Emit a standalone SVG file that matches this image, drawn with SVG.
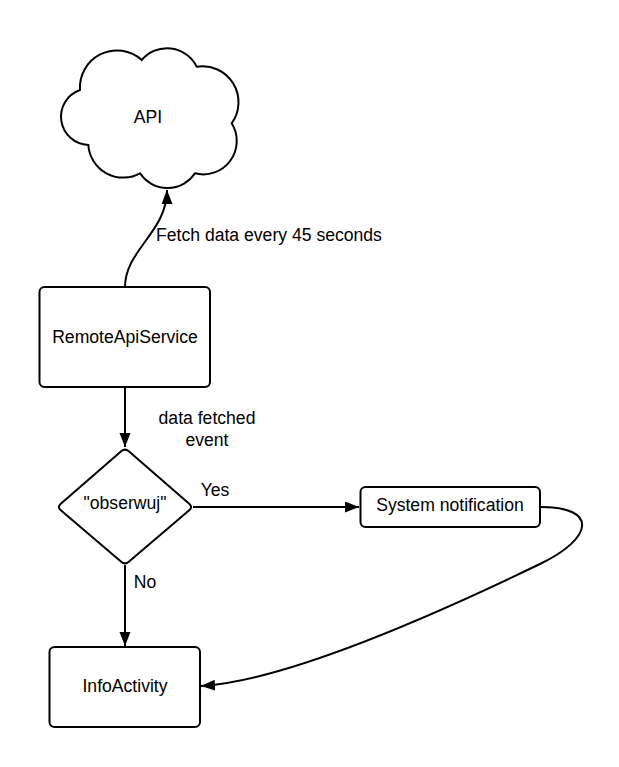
<svg xmlns="http://www.w3.org/2000/svg" width="619" height="767" viewBox="0 0 619 767">
<style>
.s{fill:#fff;stroke:#000;stroke-width:2}
.c{fill:none;stroke:#000;stroke-width:2}
text{font-family:"Liberation Sans",Arial,sans-serif;font-size:17.6px;fill:#000}
.m{text-anchor:middle}
</style>
<defs>
<marker id="ah" markerUnits="userSpaceOnUse" markerWidth="16" markerHeight="13" refX="14" refY="5.5" orient="auto">
<path d="M0,0 L14,5.5 L0,11 Z" fill="#000"/>
</marker>
</defs>
<rect width="619" height="767" fill="#fff"/>
<g id="connectors">
<path class="c" d="M125,287 C125,250 167,232 167,190" marker-end="url(#ah)"/>
<path class="c" d="M125,387 L125,447" marker-end="url(#ah)"/>
<path class="c" d="M193,507 L359,507" marker-end="url(#ah)"/>
<path class="c" d="M125,565 L125,646" marker-end="url(#ah)"/>
<path class="c" d="M541,507 C598,507 594,538 540,564 C482,592 300,680 201,686" marker-end="url(#ah)"/>
<text x="156" y="241">Fetch data every 45 seconds</text>
<text class="m" x="207" y="424">data fetched</text>
<text class="m" x="207" y="446">event</text>
<text class="m" x="215" y="496">Yes</text>
<text class="m" x="145" y="588">No</text>
</g>
<g id="api">
<path class="s" d="M80,90 A37,37 0 0 1 141.7,60 A33,33 0 0 1 196.7,66.7 A36,36 0 0 1 231.7,123.3 A33.4,33.4 0 0 1 195,173.3 A33,33 0 0 1 140,173.3 A35,35 0 0 1 88.3,145 A28.3,28.3 0 0 1 80,90 Z"/>
<text class="m" x="148" y="123">API</text>
</g>
<g id="remote">
<rect class="s" x="39.5" y="287" width="170.5" height="100" rx="5"/>
<text class="m" x="125" y="343">RemoteApiService</text>
</g>
<g id="decision">
<path class="s" d="M128.8,451.3 L189.2,503.7 Q193,507 189.2,510.3 L128.8,561.7 Q125,565 121.2,561.7 L60.8,510.3 Q57,507 60.8,503.7 L121.2,451.3 Q125,448 128.8,451.3 Z"/>
<text class="m" x="125" y="509">"obserwuj"</text>
</g>
<g id="notification">
<rect class="s" x="360.5" y="487" width="179.5" height="40" rx="5"/>
<text class="m" x="450" y="511">System notification</text>
</g>
<g id="info">
<rect class="s" x="49.5" y="647" width="150.5" height="80" rx="5"/>
<text class="m" x="125" y="692">InfoActivity</text>
</g>
</svg>
